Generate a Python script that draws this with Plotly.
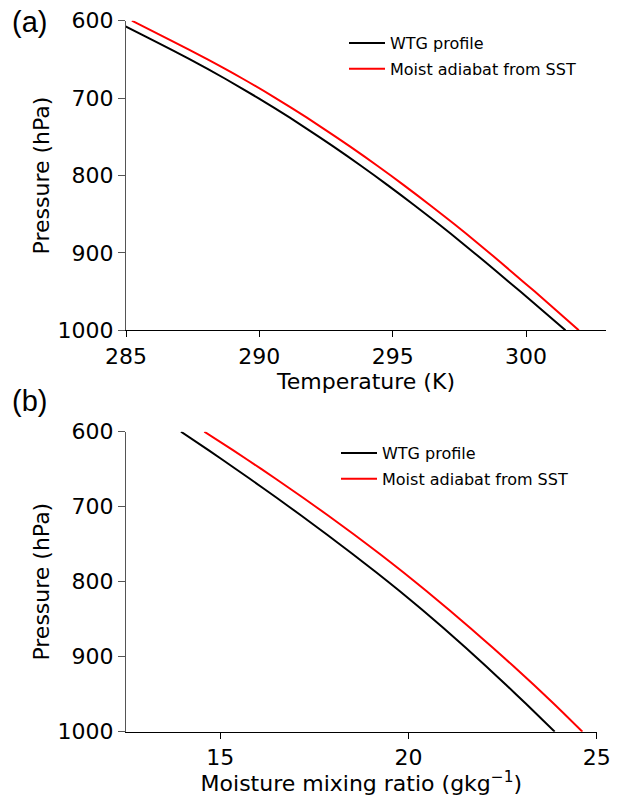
import plotly.graph_objects as go

# Shared pressure levels (hPa)
pressure = [600, 625, 650, 675, 700, 725, 750, 775, 800,
            825, 850, 875, 900, 925, 950, 975, 1000]

# Panel (a): temperature (K)
temp_wtg = [284.55, 286.00, 287.40, 288.72, 289.96, 291.13, 292.24, 293.30, 294.32,
            295.30, 296.25, 297.17, 298.06, 298.93, 299.79, 300.64, 301.48]
temp_moist = [285.22, 286.66, 288.06, 289.38, 290.61, 291.77, 292.87, 293.92, 294.93,
              295.90, 296.84, 297.75, 298.63, 299.48, 300.33, 301.16, 301.98]

# Panel (b): moisture mixing ratio (g/kg)
q_wtg = [13.96, 14.70, 15.425, 16.135, 16.83, 17.51, 18.175, 18.825, 19.46,
         20.07, 20.66, 21.23, 21.785, 22.325, 22.855, 23.375, 23.885]
q_moist = [14.58, 15.35, 16.10, 16.83, 17.54, 18.23, 18.90, 19.55, 20.175,
           20.78, 21.37, 21.945, 22.51, 23.06, 23.595, 24.115, 24.62]

series_names = ["WTG profile", "Moist adiabat from SST"]
series_colors = ["black", "#ff0000"]

x_ticks_a = [285, 290, 295, 300]
x_ticks_b = [15, 20, 25]
y_ticks = [600, 700, 800, 900, 1000]

W, H = 618, 796

def px(x):
    return x / W

def py(y):
    return 1 - y / H

fig = go.Figure()

for i, (name, color, vals) in enumerate(zip(series_names, series_colors, [temp_wtg, temp_moist])):
    fig.add_trace(go.Scatter(x=vals, y=pressure, mode="lines", name=name,
                             line=dict(color=color, width=2, shape="spline", smoothing=0.6),
                             xaxis="x", yaxis="y", legend="legend",
                             legendgroup=f"a{i}"))
for i, (name, color, vals) in enumerate(zip(series_names, series_colors, [q_wtg, q_moist])):
    fig.add_trace(go.Scatter(x=vals, y=pressure, mode="lines", name=name,
                             line=dict(color=color, width=2, shape="spline", smoothing=0.6),
                             xaxis="x2", yaxis="y2", legend="legend2",
                             legendgroup=f"b{i}"))

tickfont = dict(family="DejaVu Sans", size=22, color="black")
titlefont = dict(family="DejaVu Sans", size=22, color="black")

common_x = dict(showline=True, linecolor="black", linewidth=1, mirror=False,
                showgrid=False, zeroline=False, ticks="outside", ticklen=6,
                tickwidth=1, tickcolor="black", tickfont=tickfont, automargin=False)
common_y = dict(showline=True, linecolor="#555555", linewidth=1, mirror=False,
                showgrid=False, zeroline=False, ticks="outside", ticklen=7,
                tickwidth=1, tickcolor="#555555", tickfont=tickfont,
                tickvals=y_ticks, range=[1000, 600], automargin=False)

legend_font = dict(family="DejaVu Sans", size=16, color="black")

fig.update_layout(
    width=W, height=H,
    margin=dict(l=0, r=0, t=0, b=0),
    paper_bgcolor="white", plot_bgcolor="white",
    xaxis=dict(common_x, domain=[px(126), px(606)], range=[285, 303],
               tickvals=x_ticks_a, anchor="y",
               title=dict(text="Temperature (K)", font=titlefont, standoff=1)),
    yaxis=dict(common_y, domain=[py(330.3), py(20.7)], anchor="x",
               title=dict(text="Pressure (hPa)", font=titlefont, standoff=1)),
    xaxis2=dict(common_x, domain=[px(126), px(596.7)], range=[12.5, 25],
                tickvals=x_ticks_b, anchor="y2",
                title=dict(text="Moisture mixing ratio (gkg<sup>−1</sup>)",
                           font=titlefont, standoff=2)),
    yaxis2=dict(common_y, domain=[py(731.7), py(431.7)], anchor="x2",
                title=dict(text="Pressure (hPa)", font=titlefont, standoff=1)),
    legend=dict(x=px(344), y=py(26), xanchor="left", yanchor="top",
                bgcolor="rgba(0,0,0,0)", itemwidth=36, tracegroupgap=2,
                font=legend_font),
    legend2=dict(x=px(336), y=py(436), xanchor="left", yanchor="top",
                 bgcolor="rgba(0,0,0,0)", itemwidth=36, tracegroupgap=2,
                 font=legend_font),
    annotations=[
        dict(text="(a)", x=px(10), y=py(22), xref="paper", yref="paper",
             xanchor="left", yanchor="middle", showarrow=False,
             font=dict(family="Liberation Sans", size=29, color="black")),
        dict(text="(b)", x=px(10), y=py(401), xref="paper", yref="paper",
             xanchor="left", yanchor="middle", showarrow=False,
             font=dict(family="Liberation Sans", size=29, color="black")),
    ],
)

fig.write_html("out.html", config={"displayModeBar": False},
               post_script="document.body.style.margin='0';")
